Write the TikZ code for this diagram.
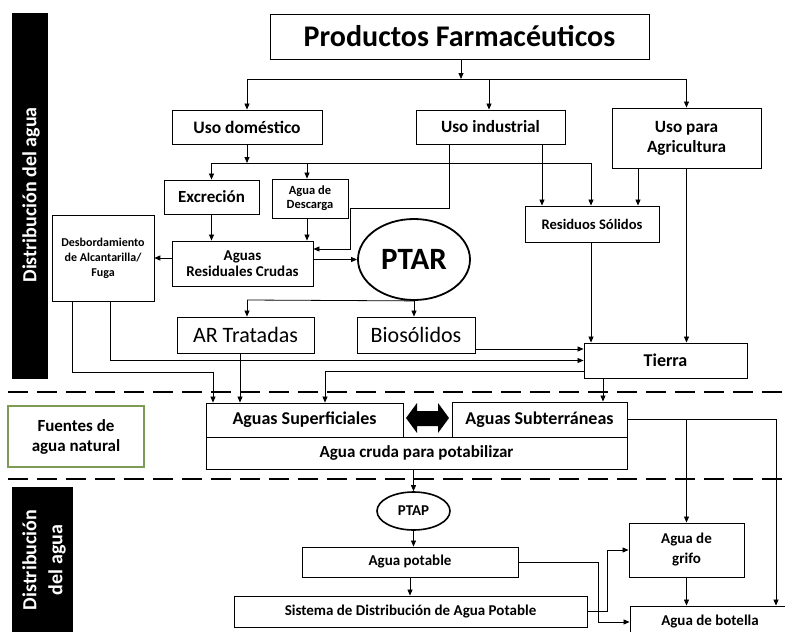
\documentclass[tikz,border=0pt]{standalone}
\usepackage{fontspec}
\setmainfont{Carlito}
\usetikzlibrary{arrows.meta,shapes.geometric}
\definecolor{fgreen}{RGB}{125,155,85}
\tikzset{
  box/.style={draw=black, line width=0.9pt, rectangle, inner sep=1pt, align=center, font=\bfseries},
  oval/.style={draw=black, line width=1.8pt, ellipse, inner sep=0pt, font=\bfseries},
  arr/.style={line width=0.8pt, -{Triangle[length=6pt,width=5pt]}},
  ln/.style={line width=0.8pt},
  sep/.style={line width=2.6pt, dash pattern=on 20pt off 9pt},
  sidebar/.style={fill=black, draw=none},
  sidetxt/.style={text=white, font=\bfseries\fontsize{20}{26}\selectfont, rotate=90, align=center}
}
\begin{document}
\begin{tikzpicture}[x=1pt,y=-1pt]
\useasboundingbox (0,0) rectangle (785,632);
% side bars
\fill[sidebar] (12,13) rectangle (48,379);
\node[sidetxt] (sb1) at (31,195) {Distribución del agua};
\fill[sidebar] (12,487) rectangle (73,640);
\node[sidetxt] (sb2) at (44,560) {Distribución\\del agua};
% separators
\draw[sep] (8,392) -- (785,392);
\draw[sep] (8,479) -- (785,479);
% boxes
\node[box, minimum width=379pt, minimum height=45pt, font=\bfseries\fontsize{30}{34}\selectfont] (prod) at (459.5,36.5) {Productos Farmacéuticos};
\node[box, minimum width=150pt, minimum height=34pt, font=\bfseries\fontsize{17.5}{20}\selectfont] (dom) at (247,127) {Uso doméstico};
\node[box, minimum width=149pt, minimum height=34pt, font=\bfseries\fontsize{17.2}{20}\selectfont] (ind) at (490.5,127) {Uso industrial};
\node[box, minimum width=149pt, minimum height=60pt, font=\bfseries\fontsize{17.2}{20}\selectfont] (agr) at (686.5,138) {Uso para\\Agricultura};
\node[box, minimum width=95pt, minimum height=34pt, font=\bfseries\fontsize{17}{20}\selectfont] (exc) at (211.5,197) {Excreción};
\node[box, minimum width=76pt, minimum height=39pt, font=\bfseries\fontsize{12.5}{14}\selectfont] (desc) at (310,198.5) {Agua de\\Descarga};
\node[box, minimum width=141pt, minimum height=45pt, font=\bfseries\fontsize{15}{16}\selectfont] (arc) at (242.5,263.5) {Aguas\\Residuales Crudas};
\node[box, line width=0.6pt, minimum width=102pt, minimum height=86pt, font=\bfseries\fontsize{12}{15}\selectfont] (des) at (103,258) {Desbordamiento\\de Alcantarilla/\\Fuga};
\node[box, minimum width=134pt, minimum height=36pt, font=\bfseries\fontsize{14.6}{17}\selectfont] (res) at (592,224) {Residuos Sólidos};
\node[oval, minimum width=112pt, minimum height=81pt, font=\bfseries\fontsize{31}{34}\selectfont] (ptar) at (414,259.5) {PTAR};
\node[box, minimum width=137pt, minimum height=36pt, font=\fontsize{22}{24}\selectfont] (art) at (245.5,335) {AR Tratadas};
\node[box, minimum width=118pt, minimum height=36pt, font=\fontsize{22}{24}\selectfont] (bio) at (416,335) {Biosólidos};
\node[box, minimum width=163pt, minimum height=35pt, font=\bfseries\fontsize{18}{20}\selectfont] (tierra) at (665.5,360.5) {Tierra};
\node[box, minimum width=421pt, minimum height=32pt, font=\bfseries\fontsize{17}{19}\selectfont] (cruda) at (416.5,453) {Agua cruda para potabilizar};
\node[box, minimum width=197pt, minimum height=34pt, font=\bfseries\fontsize{18}{20}\selectfont] (sup) at (304.5,420) {Aguas Superficiales};
\node[box, minimum width=175pt, minimum height=35pt, font=\bfseries\fontsize{18}{20}\selectfont] (sub) at (539.5,419.5) {Aguas Subterráneas};
\node[box, draw=fgreen, line width=1.2pt, minimum width=136pt, minimum height=61pt, font=\bfseries\fontsize{17}{20}\selectfont] (fuen) at (76,436.5) {Fuentes de\\agua natural};
\node[oval, line width=1.6pt, minimum width=73pt, minimum height=38pt, font=\bfseries\fontsize{15}{17}\selectfont] (ptap) at (413.5,511) {PTAP};
\node[box, minimum width=216pt, minimum height=30pt, font=\bfseries\fontsize{15}{17}\selectfont] (pot) at (410,562) {Agua potable};
\node[box, minimum width=353pt, minimum height=31pt, font=\bfseries\fontsize{15}{17}\selectfont] (sis) at (410.5,611.5) {Sistema de Distribución de Agua Potable};
\node[box, minimum width=115pt, minimum height=54pt, font=\bfseries\fontsize{15}{20}\selectfont] (grifo) at (686.5,550) {Agua de\\grifo};
\node[box, minimum width=160pt, minimum height=32pt, font=\bfseries\fontsize{15}{17}\selectfont] (bot) at (710,622) {Agua de botella};
% double arrow between surface and ground water
\fill[black] (406,418) -- (417,403) -- (417,411) -- (438,411) -- (438,403) -- (449,418) -- (438,433) -- (438,426) -- (417,426) -- (417,433) -- cycle;
% junction coordinates
\coordinate (j1) at (0,79);
\coordinate (j2) at (0,163);
\coordinate (j3) at (0,300);
\coordinate (k1) at (350,208);
\coordinate (k2) at (213,372);
% connectors
\draw[arr] ([xshift=1.5pt]prod.south) -- ([xshift=1.5pt]prod.south |- j1);
\draw[ln] (dom.north |- j1) -- (agr.north |- j1);
\draw[arr] (dom.north |- j1) -- (dom.north);
\draw[arr] ([xshift=-1.5pt]ind.north |- j1) -- ([xshift=-1.5pt]ind.north);
\draw[arr] (agr.north |- j1) -- (agr.north);
\draw[arr] (dom.south) -- (dom.south |- j2);
\draw[ln] (exc.north |- j2) -- ([xshift=-1pt]res.north |- j2);
\draw[arr] (exc.north |- j2) -- (exc.north);
\draw[arr] ([xshift=-3pt]desc.north |- j2) -- ([xshift=-3pt]desc.north);
\draw[arr] ([xshift=-1pt]res.north |- j2) -- ([xshift=-1pt]res.north);
\draw[arr] ([xshift=51.5pt]ind.south) -- ([xshift=51.5pt]ind.south |- res.north);
\draw[arr] ([xshift=-41.5pt]ind.south) |- (k1) |- ([yshift=14.5pt]arc.east);
\draw[arr] ([xshift=-48.5pt]agr.south) -- ([xshift=-48.5pt]agr.south |- res.north);
\draw[arr] (agr.south) -- (agr.south |- tierra.north);
\draw[arr] ([xshift=-1pt]res.south) -- ([xshift=-1pt]res.south |- tierra.north);
\draw[arr] (exc.south) -- (exc.south |- arc.north);
\draw[arr] ([xshift=-3pt]desc.south) -- ([xshift=-3pt]desc.south |- arc.north);
\draw[arr] (arc.west |- des.east) -- (des.east);
\draw[arr] (arc.east |- ptar.west) -- (ptar.west);
\draw[ln] ([xshift=1.5pt]art.north |- j3) -- (ptar.south);
\draw[arr] ([xshift=1.5pt]art.north |- j3) -- ([xshift=1.5pt]art.north);
\draw[arr] (ptar.south) -- (ptar.south |- bio.north);
\draw[arr] ([yshift=-14pt]bio.east) -- ([yshift=-14pt]bio.east -| tierra.west);
\draw[arr] ([xshift=7pt]des.south) |- (tierra.west);
\draw[arr] ([xshift=-31pt]des.south) |- (k2) -- (k2 |- sup.north);
\draw[arr] ([xshift=-5.5pt]art.south) -- ([xshift=-5.5pt]art.south |- sup.north);
\draw[arr] ([yshift=-11pt]tierra.west) -| ([xshift=20.5pt]sup.north);
\draw[arr] ([xshift=-62.5pt]tierra.south) -- ([xshift=-62.5pt]tierra.south |- sub.north);
\draw[arr] (sub.east) -| ([xshift=66pt]bot.north);
\draw[arr] (sub.east -| grifo.north) -- (grifo.north);
\draw[arr] (ptap.north |- cruda.south) -- (ptap.north);
\draw[arr] (ptap.south) -- (ptap.south |- pot.north);
\draw[arr] (pot.south) -- (pot.south |- sis.north);
\draw[arr] (pot.east) -| ([xshift=-31pt]bot.west) -- (bot.west);
\draw[arr] (sis.east) -| ([xshift=-21pt]grifo.west) -- (grifo.west);
\draw[arr] (grifo.south) -- (grifo.south |- bot.north);
\end{tikzpicture}
\end{document}
